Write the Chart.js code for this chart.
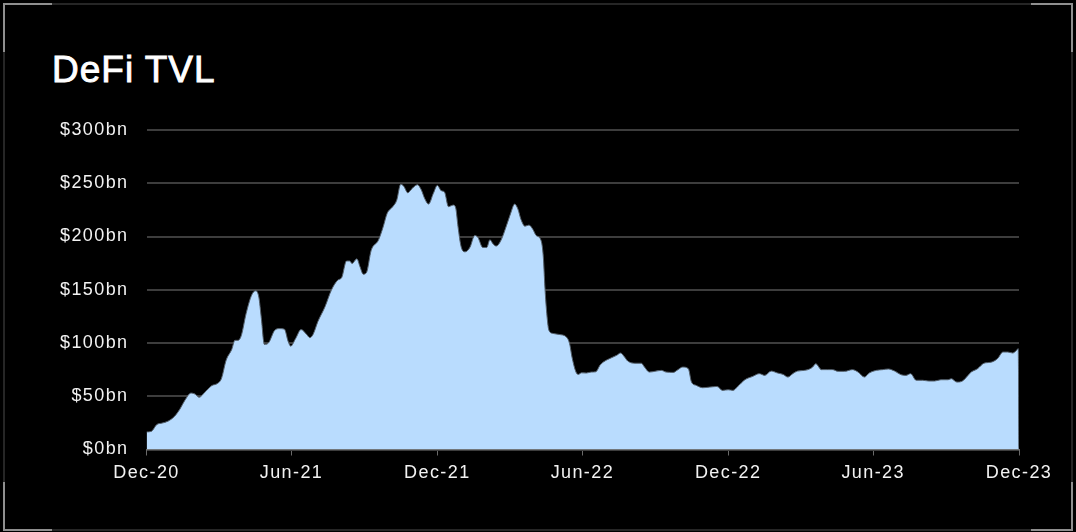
<!DOCTYPE html>
<html>
<head>
<meta charset="utf-8">
<title>DeFi TVL</title>
<script src="https://cdn.jsdelivr.net/npm/chart.js@4.4.0/dist/chart.umd.min.js"></script>
<style>
  html, body { margin: 0; padding: 0; background: #000; }
  body { width: 1076px; height: 532px; position: relative; overflow: hidden; font-family: "Liberation Sans", Arial, sans-serif; }
  .frame { position: absolute; left: 3px; top: 3px; width: 1070px; height: 528px; box-sizing: border-box; border: 2px solid #262626; }
  .corner { position: absolute; background: #8f8f8f; }
  h1 { position: absolute; left: 52px; top: 51px; margin: 0; font-size: 37px; line-height: 37px; font-weight: normal; letter-spacing: 1px; color: #fff; -webkit-text-stroke: 0.9px #fff; }
  #wrap { position: absolute; left: 0; top: 0; width: 1076px; height: 532px; }
</style>
</head>
<body>
<div class="frame"></div>
<div class="corner" style="left:3px;top:3px;width:49px;height:2px"></div>
<div class="corner" style="left:3px;top:3px;width:2px;height:49px"></div>
<div class="corner" style="left:1031px;top:3px;width:42px;height:2px"></div>
<div class="corner" style="left:1071px;top:3px;width:2px;height:49px"></div>
<div class="corner" style="left:3px;top:529px;width:49px;height:2px"></div>
<div class="corner" style="left:3px;top:482px;width:2px;height:49px"></div>
<div class="corner" style="left:1031px;top:529px;width:42px;height:2px"></div>
<div class="corner" style="left:1071px;top:482px;width:2px;height:49px"></div>
<h1>DeFi TVL</h1>
<div id="wrap"><canvas id="tvlChart" width="1076" height="532"></canvas></div>
<script>
// days since 1 Dec 2020
const days = [0, 6, 13, 19, 27, 35, 42, 48, 56, 61,
  66, 73, 82, 89, 94, 100, 107, 111, 115, 119,
  125, 132, 137, 141, 144, 148, 153, 161, 167, 173,
  178, 181, 187, 194, 201, 205, 209, 215, 224, 232,
  240, 245, 251, 255, 258, 264, 268, 272, 276, 282,
  291, 297, 302, 309, 314, 319, 323, 328, 332, 340,
  345, 349, 354, 360, 365, 370, 374, 379, 385, 388,
  391, 395, 400, 406, 412, 416, 422, 427, 431, 435,
  439, 445, 452, 457, 462, 466, 470, 475, 480, 485,
  489, 495, 498, 500, 502, 505, 510, 518, 527, 531,
  534, 539, 542, 546, 552, 558, 564, 569, 573, 581,
  590, 595, 600, 604, 613, 621, 625, 631, 638, 646,
  652, 661, 667, 673, 680, 684, 690, 698, 707, 716,
  723, 730, 736, 742, 751, 761, 769, 776, 784, 792,
  799, 805, 811, 817, 826, 832, 836, 840, 847, 855,
  861, 868, 876, 886, 893, 901, 907, 916, 924, 931,
  939, 947, 953, 959, 966, 974, 982, 989, 997, 1006,
  1010, 1017, 1024, 1031, 1035, 1043, 1051, 1060, 1068, 1075,
  1081, 1087, 1091, 1094, 1095];

// total value locked, $bn
const tvl = [16.5, 17, 23.5, 24.7, 26.6, 31, 38, 46, 53, 52,
  49, 53.6, 60, 62, 66.5, 84, 94, 102.5, 102.5, 107,
  127.6, 145, 149, 143, 124, 98.7, 100, 112, 113.5, 113,
  101, 97, 104, 112.6, 108, 105, 108, 120, 134, 149.6,
  159, 161.5, 177, 177, 174.6, 179, 171.5, 164.6, 166, 187,
  196.5, 209, 221.7, 228, 234, 249, 247, 241, 244, 248.6,
  243.6, 235.8, 230.4, 240.5, 248, 243, 241.7, 228, 229.5, 227,
  209, 190, 185.6, 190, 201, 199, 189.7, 189.7, 197, 193,
  191, 196.6, 210.7, 221.7, 230.4, 226, 216, 209.7, 210.7, 206.6,
  201, 196.6, 181, 152.6, 130.7, 112, 109, 108, 105.6, 99.4,
  86.8, 72.7, 70.5, 72, 71.8, 72.7, 73, 79, 82, 85.3,
  88.4, 90.6, 86.8, 83, 81, 81, 77.4, 72.7, 73.4, 74.3,
  72.7, 72.4, 75, 77.4, 75.9, 63.3, 60.2, 58, 58.6, 59.2,
  55.5, 56.1, 55.5, 59.2, 65.5, 68.7, 71.2, 69.6, 73.6, 71.8,
  70.5, 68, 71.2, 73.6, 74.3, 75.5, 77.4, 80.6, 75, 75,
  75, 73.4, 73.4, 75, 72.7, 68, 71.8, 74.3, 75, 75.6,
  73.6, 70.2, 69.6, 71.2, 65, 65, 64.3, 64.3, 65.5, 65.5,
  66.5, 63.3, 64.3, 69.6, 72.7, 75.9, 81, 82, 85.3, 91.5,
  91.5, 90.6, 92.4, 94.7, 0];

const tickDays = [0, 182, 365, 547, 730, 912, 1095];
const tickLabels = ['Dec-20', 'Jun-21', 'Dec-21', 'Jun-22', 'Dec-22', 'Jun-23', 'Dec-23'];
const yTicks = [0, 50, 100, 150, 200, 250, 300];

const tickFont = { family: "'Liberation Sans', Arial, sans-serif", size: 18 };

// a bit of tracking on the axis text
const spacing = {
    id: 'spacing',
    beforeDraw(chart) {
        chart.ctx.letterSpacing = '1.4px';
    }
};

new Chart(document.getElementById('tvlChart').getContext('2d'), {
    type: 'line',
    data: {
        datasets: [{
            data: days.map((d, i) => ({ x: d, y: tvl[i] })),
            fill: 'origin',
            backgroundColor: '#b9dcfe',
            borderColor: '#56616c',
            borderWidth: 1,
            pointRadius: 0,
            cubicInterpolationMode: 'monotone'
        }]
    },
    options: {
        responsive: false,
        animation: false,
        devicePixelRatio: 1,
        layout: { padding: { left: 0, right: 57, top: 130, bottom: 32.5 } },
        plugins: {
            legend: { display: false },
            tooltip: { enabled: false }
        },
        scales: {
            x: {
                type: 'linear',
                min: 0,
                max: 1095,
                afterBuildTicks: scale => { scale.ticks = tickDays.map(v => ({ value: v })); },
                afterFit: scale => { scale.height = 50; },
                grid: { drawOnChartArea: false, drawTicks: true, tickLength: 6, color: '#6a6a6a', lineWidth: 1 },
                border: { display: true, color: '#6a6a6a', width: 1 },
                ticks: {
                    autoSkip: false,
                    maxRotation: 0,
                    padding: 7,
                    color: '#f2f2f2',
                    font: tickFont,
                    callback: v => tickLabels[tickDays.indexOf(v)]
                }
            },
            y: {
                min: 0,
                max: 300,
                afterBuildTicks: scale => { scale.ticks = yTicks.map(v => ({ value: v })); },
                afterFit: scale => { scale.width = 146.5; },
                grid: { color: '#3d3d3d', lineWidth: 2, drawTicks: false },
                border: { display: false },
                ticks: {
                    padding: 18,
                    color: '#f2f2f2',
                    font: tickFont,
                    callback: v => '$' + v + 'bn'
                }
            }
        }
    },
    plugins: [spacing]
});
</script>
</body>
</html>
